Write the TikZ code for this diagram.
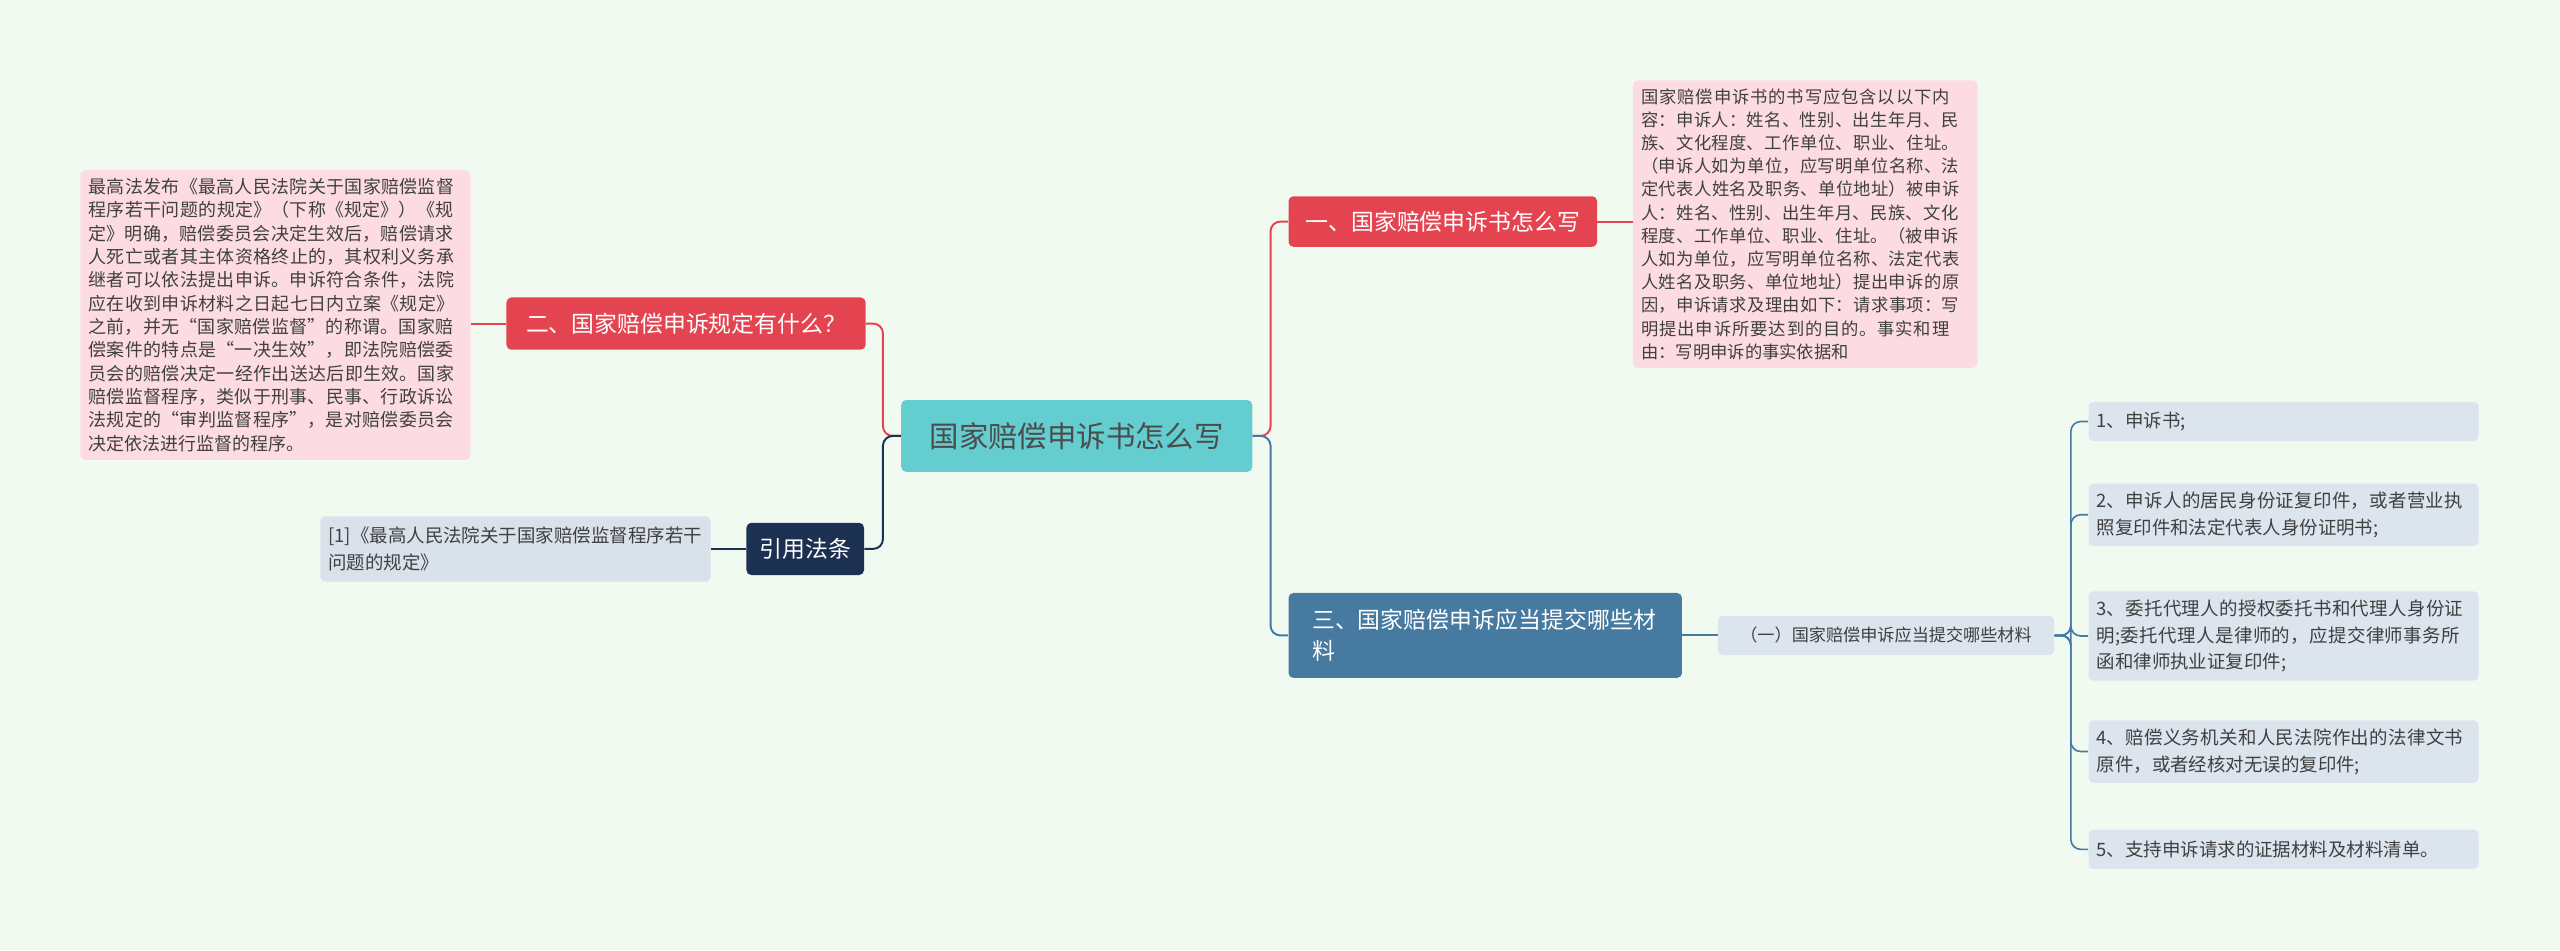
\documentclass[tikz,border=0pt]{standalone}
\usepackage{fontspec}
\setmainfont{Noto Sans CJK SC}
\XeTeXlinebreaklocale "zh"
\XeTeXlinebreakskip=0pt plus 1pt
\usetikzlibrary{positioning}
\definecolor{bgc}{RGB}{240,250,240}
\definecolor{redb}{RGB}{228,68,80}
\definecolor{pinkl}{RGB}{252,220,226}
\definecolor{blueb}{RGB}{70,122,160}
\definecolor{greyl}{RGB}{220,228,238}
\definecolor{navyb}{RGB}{28,48,82}
\definecolor{tealc}{RGB}{100,205,208}
\tikzset{
  branch/.style={rounded corners=3pt, text=white, anchor=north west, align=left, inner sep=6pt, font=\fontsize{14}{19}\selectfont},
  leaf/.style={rounded corners=3pt, anchor=north west, align=left, inner sep=5pt, text=black!75, font=\fontsize{10}{14.2}\selectfont},
  bigleaf/.style={leaf, font=\fontsize{11.3}{16.5}\selectfont},
  link/.style={line width=1.2pt, rounded corners=6pt}
}
\begin{document}
\begin{tikzpicture}[x=1pt,y=-1pt]
    \fill[bgc] (0,0) rectangle (1568,582);
    \useasboundingbox (0,0) rectangle (1568,582);

    % Center
    \node[fill=tealc, rounded corners=3pt, minimum width=215pt, minimum height=44pt,
          font=\fontsize{18}{20}\selectfont, text=black!70] (root) at (659.5,267) {国家赔偿申诉书怎么写};

    % Right side
    \node[branch, fill=redb, minimum width=189pt, minimum height=31pt] (b1) at (789,120) {一、国家赔偿申诉书怎么写};
    \node[leaf, fill=pinkl, text width=201pt, font=\fontsize{10.6}{14.2}\selectfont] (l1) at (1000,49) {国家赔偿申诉书的书写应包含以以下内容：申诉人：姓名、性别、出生年月、民族、文化程度、工作单位、职业、住址。（申诉人如为单位，应写明单位名称、法定代表人姓名及职务、单位地址）被申诉人：姓名、性别、出生年月、民族、文化程度、工作单位、职业、住址。（被申诉人如为单位，应写明单位名称、法定代表人姓名及职务、单位地址）提出申诉的原因，申诉请求及理由如下：请求事项：写明提出申诉所要达到的目的。事实和理由：写明申诉的事实依据和};

    \node[branch, fill=blueb, text width=212pt, minimum height=52pt, minimum width=241pt] (b3) at (789,363) {三、国家赔偿申诉应当提交哪些材料};
    \node[leaf, fill=greyl, minimum width=206pt, minimum height=24pt, align=center, font=\fontsize{10.5}{14}\selectfont] (s1) at (1052,377) {（一）国家赔偿申诉应当提交哪些材料};

    \node[bigleaf, fill=greyl, text width=229pt, minimum height=24pt] (m1) at (1279,246) {1、申诉书;};
    \node[bigleaf, fill=greyl, text width=229pt] (m2) at (1279,296) {2、申诉人的居民身份证复印件，或者营业执照复印件和法定代表人身份证明书;};
    \node[bigleaf, fill=greyl, text width=229pt] (m3) at (1279,362) {3、委托代理人的授权委托书和代理人身份证明;委托代理人是律师的，应提交律师事务所函和律师执业证复印件;};
    \node[bigleaf, fill=greyl, text width=229pt] (m4) at (1279,441) {4、赔偿义务机关和人民法院作出的法律文书原件，或者经核对无误的复印件;};
    \node[bigleaf, fill=greyl, text width=229pt, minimum height=24pt] (m5) at (1279,508) {5、支持申诉请求的证据材料及材料清单。};

    % Left side
    \node[branch, fill=redb, minimum width=220pt, minimum height=32pt] (b2) at (310,182) {二、国家赔偿申诉规定有什么？};
    \node[leaf, fill=pinkl, text width=229pt, font=\fontsize{11}{14.3}\selectfont] (l2) at (49,104) {最高法发布《最高人民法院关于国家赔偿监督程序若干问题的规定》（下称《规定》）《规定》明确，赔偿委员会决定生效后，赔偿请求人死亡或者其主体资格终止的，其权利义务承继者可以依法提出申诉。申诉符合条件，法院应在收到申诉材料之日起七日内立案《规定》之前，并无“国家赔偿监督”的称谓。国家赔偿案件的特点是“一决生效”，即法院赔偿委员会的赔偿决定一经作出送达后即生效。国家赔偿监督程序，类似于刑事、民事、行政诉讼法规定的“审判监督程序”，是对赔偿委员会决定依法进行监督的程序。};

    \node[branch, fill=navyb, minimum width=72pt, minimum height=32pt, inner sep=3pt, align=center] (b4) at (457,320) {引用法条};
    \node[bigleaf, fill=greyl!85!black!10!greyl, text width=229pt, minimum height=40pt] (l4) at (196,316) {[1]《最高人民法院关于国家赔偿监督程序若干问题的规定》};

    % Connectors
    \draw[link, redb] (root.east) -- ++(11,0) |- (b1.west);
    \draw[link, blueb] (root.east) -- ++(11,0) |- (b3.west);
    \draw[link, redb] (root.west) -- ++(-11,0) |- (b2.east);
    \draw[link, navyb] (root.west) -- ++(-11,0) |- (b4.east);
    \draw[line width=1.2pt, redb] (b1.east) -- (l1.west |- b1.east);
    \draw[line width=1.2pt, redb] (b2.west) -- (l2.east |- b2.west);
    \draw[line width=1.2pt, navyb] (b4.west) -- (l4.east |- b4.west);
    \draw[line width=1.2pt, blueb] (b3.east |- s1.west) -- (s1.west);
    \foreach \m in {m1,m2,m3,m4,m5}
        \draw[link, blueb, line width=1pt] (s1.east) -- ++(10,0) |- (\m.west);
\end{tikzpicture}
\end{document}
